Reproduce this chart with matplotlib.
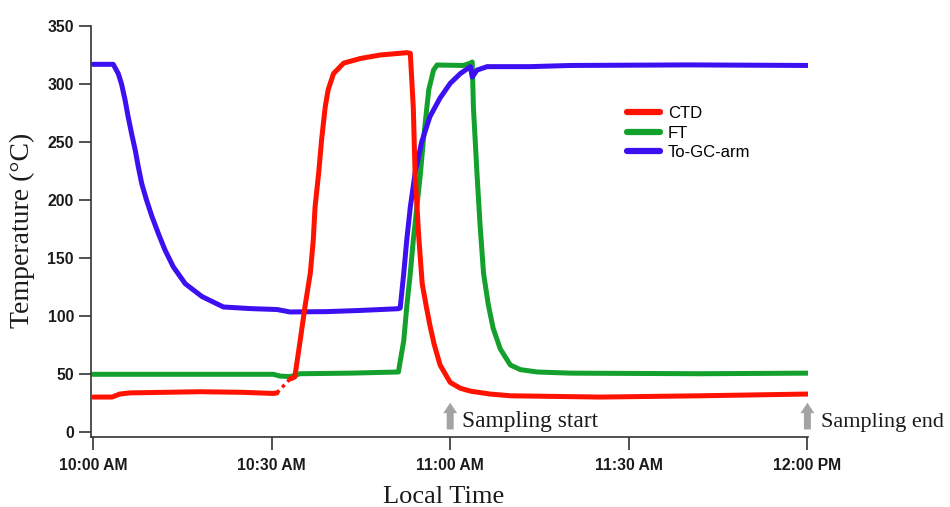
import matplotlib
matplotlib.use("Agg")
import matplotlib.pyplot as plt

# ---- data (minutes after 10:00 AM, temperature in °C) ----
blue_t = [0, 3.4, 4.25, 4.8, 5.4, 5.9, 6.5, 7.1, 7.6, 8.2, 9.0, 9.9, 11.0, 12.1,
          13.5, 15.5, 18.3, 21.9, 26.4, 30.9, 33.1, 39.3, 44.9, 51.3, 51.6,
          52.2, 52.7, 53.3, 54.1, 55.2, 56.6, 58.3, 60.0, 61.7, 63.4, 63.7, 64.5,
          66.2, 73.4, 80.2, 100, 120]
blue_v = [317, 317, 309, 300, 286, 272, 257, 243, 229, 214, 200, 186, 171, 157,
          142.5, 128, 117, 108, 106.6, 105.8, 103.7, 104, 105, 106.5, 107,
          137, 165.5, 194, 223, 250, 272, 288, 300.6, 309, 315, 306, 312,
          315, 315, 316, 316.5, 316]

red_t_a = [0, 3.2, 4.5, 6.2, 18.0, 25.0, 30.3, 30.9]
red_v_a = [30.4, 30.4, 33, 34, 35, 34.5, 33.5, 34]
red_t_gap = [30.9, 33.1]
red_v_gap = [34, 46]
red_t_b = [33.1, 33.9, 34.8, 35.6, 36.5, 37.0, 37.3, 37.9, 38.4, 39.0, 39.5, 40.4,
           42.1, 44.9, 48.2, 52.7, 53.3, 53.8, 54.1, 54.7, 55.3, 56.0, 56.6, 57.3,
           58.3, 60.0, 61.7, 63.4, 66.7, 70.1, 85.2, 102, 120]
red_v_b = [46, 47.7, 79, 108, 137, 165.5, 194, 223, 252, 280, 295, 309,
           318, 322, 325, 327, 326.5, 280, 223, 170, 128, 108, 92, 76,
           58, 43, 38, 35.5, 33, 31.5, 30.4, 31.5, 33]

green_t = [0, 30.3, 31.4, 33.1, 34.8, 43.2, 51.3, 52.2, 52.7, 53.3, 53.8, 54.4,
           55.0, 55.5, 56.4, 57.2, 57.8, 62.2, 63.4, 63.7, 63.9, 64.5, 65.0, 65.6,
           66.4, 67.2, 68.4, 70.1, 71.8, 74.6, 80.2, 102, 120]
green_v = [50, 50, 48.5, 48, 50.5, 51, 52, 79, 108, 137, 165.5, 194,
           223, 252, 295, 312, 316.4, 316, 318, 319, 280, 223, 180, 137,
           110, 90, 72, 58, 54, 52, 51, 50.5, 51]

x_ticks = [0, 30, 60, 90, 120]
x_labels = ["10:00 AM", "10:30 AM", "11:00 AM", "11:30 AM", "12:00 PM"]
y_ticks = [0, 50, 100, 150, 200, 250, 300, 350]
series_names = ["CTD", "FT", "To-GC-arm"]
markers_t = [60, 120]
marker_labels = ["Sampling start", "Sampling end"]

RED = "#ff1200"
GREEN = "#13a02c"
BLUE = "#3d10f2"

W, H = 950, 507
fig = plt.figure(figsize=(W / 100, H / 100), dpi=100)
left, right, top, bottom = 90.6, 808, 26, 437
ax = fig.add_axes([left / W, 1 - bottom / H, (right - left) / W, (bottom - top) / H])

lw = 3.6
kw = dict(lw=lw, solid_joinstyle="round", solid_capstyle="round")
lg, = ax.plot(green_t, green_v, color=GREEN, zorder=2, **kw)
lb, = ax.plot(blue_t, blue_v, color=BLUE, zorder=3, **kw)
lr, = ax.plot(red_t_a, red_v_a, color=RED, zorder=4, **kw)
ax.plot(red_t_gap, red_v_gap, color=RED, lw=2.5, ls=(0, (1, 1.2)), zorder=4)
ax.plot(red_t_b, red_v_b, color=RED, zorder=4, **kw)

ax.set_xlim(-0.4, 120.1)
ax.set_ylim(-4, 350)
ax.set_xticks(x_ticks)
ax.set_xticklabels(x_labels)
ax.set_yticks(y_ticks)
for s in ("top", "right"):
    ax.spines[s].set_visible(False)
for s in ("left", "bottom"):
    ax.spines[s].set_color("#333333")
    ax.spines[s].set_linewidth(1.2)
ax.tick_params(axis="both", direction="out", length=9, width=1.2, color="#333333",
               labelsize=11.3, labelcolor="#1a1a1a")
ax.tick_params(axis="x", pad=6)
ax.tick_params(axis="y", pad=3)
for lab in ax.get_xticklabels() + ax.get_yticklabels():
    lab.set_fontfamily("Liberation Sans")
    lab.set_fontweight("bold")

# axis labels
fig.text(22 / W, 1 - 230 / H, "Temperature (°C)", rotation=90, ha="center", va="center",
         family="Liberation Serif", fontsize=20, color="#1a1a1a")
fig.text(444 / W, 1 - 503 / H, "Local Time", ha="center", va="baseline",
         family="Liberation Serif", fontsize=19, color="#1a1a1a")

# sampling arrows and labels
offsets = [1.9, 2.3]
sizes = [16.8, 16]
for t, lab, off, fs in zip(markers_t, marker_labels, offsets, sizes):
    ax.annotate("", xy=(t, 25.5), xytext=(t, 2.5),
                arrowprops=dict(arrowstyle="simple,head_length=0.75,head_width=1.0,tail_width=0.5",
                                color="#a3a3a3", lw=0, shrinkA=0, shrinkB=0),
                annotation_clip=False)
    ax.text(t + off, 4.3, lab, ha="left", va="baseline", family="Liberation Serif",
            fontsize=fs, color="#1a1a1a", clip_on=False)

leg = ax.legend([lr, lg, lb], series_names, loc="upper left",
                bbox_to_anchor=(627 / W, 1 - 106 / H), bbox_transform=fig.transFigure,
                frameon=False, borderpad=0, borderaxespad=0, labelspacing=0.28,
                handlelength=2.0, handletextpad=0.45,
                prop={"family": "Liberation Sans", "size": 12})
for h in leg.legend_handles:
    h.set_linewidth(4.5)

fig.savefig("out.png", dpi=100)
